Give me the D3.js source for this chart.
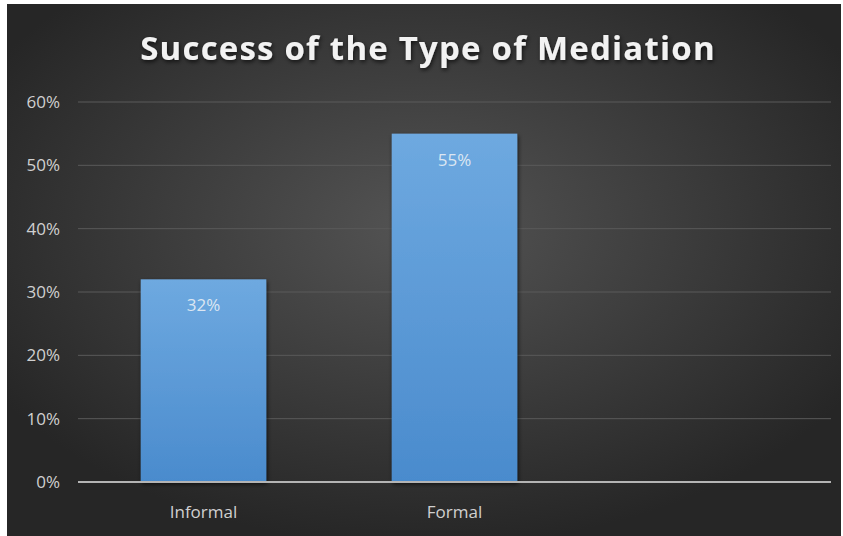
<!DOCTYPE html>
<html>
<head>
    <title>Success of the Type of Mediation</title>
    <script src="https://d3js.org/d3.v7.min.js"></script>
    <style>
        body { margin: 0; background: #fff; }
        .tick-label { font-family: "Open Sans", sans-serif; font-size: 17px; fill: #d0d0d0; }
        .bar-label { font-family: "Open Sans", sans-serif; font-size: 17px; fill: #dce6f2; }
        .title { font-family: "Open Sans", sans-serif; font-size: 33px; font-weight: bold; fill: #f2f2f2; letter-spacing: 1.2px; }
    </style>
</head>
<body>
    <svg width="843" height="536"></svg>

    <script>
        // Chart data
        const categories = ["Informal", "Formal", ""];
        const values = [0.32, 0.55, null];
        const yTicks = [0, 0.1, 0.2, 0.3, 0.4, 0.5, 0.6];

        const svg = d3.select("svg");
        const margin = {left: 78, right: 12, top: 102, bottom: 54};
        const width = 843, height = 536;

        const defs = svg.append("defs");

        // background: dark radial gradient
        const bg = defs.append("radialGradient").attr("id", "bg")
            .attr("cx", "50%").attr("cy", "42%").attr("r", "60%");
        bg.append("stop").attr("offset", "0%").attr("stop-color", "#545454");
        bg.append("stop").attr("offset", "100%").attr("stop-color", "#262626");

        const barGrad = defs.append("linearGradient").attr("id", "barGrad")
            .attr("x1", 0).attr("y1", 0).attr("x2", 0).attr("y2", 1);
        barGrad.append("stop").attr("offset", "0%").attr("stop-color", "#6ea9e0");
        barGrad.append("stop").attr("offset", "100%").attr("stop-color", "#4a8bcd");

        const shadow = defs.append("filter").attr("id", "shadow")
            .attr("x", "-20%").attr("y", "-20%").attr("width", "140%").attr("height", "160%");
        shadow.append("feDropShadow").attr("dx", 1).attr("dy", 2)
            .attr("stdDeviation", 2).attr("flood-color", "#000").attr("flood-opacity", 0.7);

        svg.append("rect")
            .attr("x", 7).attr("y", 4)
            .attr("width", 834).attr("height", 532)
            .attr("fill", "url(#bg)");

        // Scales
        const x = d3.scaleBand()
            .domain(categories.map((c, i) => i))
            .range([margin.left, 831])
            .paddingInner(0.5).paddingOuter(0.25);

        const y = d3.scaleLinear()
            .domain([0, 0.6])
            .range([482, 102]);

        // gridlines
        svg.append("g")
            .selectAll("line")
            .data(yTicks.slice(1))
            .enter().append("line")
            .attr("x1", margin.left).attr("x2", 831)
            .attr("y1", d => y(d)).attr("y2", d => y(d))
            .attr("stroke", "#5a5a5a").attr("stroke-width", 1);

        // y tick labels
        svg.append("g")
            .selectAll("text")
            .data(yTicks)
            .enter().append("text")
            .attr("class", "tick-label")
            .attr("x", 60)
            .attr("y", d => y(d) + 6)
            .attr("text-anchor", "end")
            .text(d => d3.format(".0%")(d));

        // bars
        const barData = values.map((v, i) => ({i, v})).filter(d => d.v != null);

        svg.append("g")
            .selectAll("rect")
            .data(barData)
            .enter().append("rect")
            .attr("x", d => x(d.i))
            .attr("width", x.bandwidth())
            .attr("y", d => y(d.v))
            .attr("height", d => y(0) - y(d.v))
            .attr("fill", "url(#barGrad)")
            .attr("filter", "url(#shadow)");

        svg.append("g")
            .selectAll("text")
            .data(barData)
            .enter().append("text")
            .attr("class", "bar-label")
            .attr("x", d => x(d.i) + x.bandwidth() / 2)
            .attr("y", d => y(d.v) + 32)
            .attr("text-anchor", "middle")
            .text(d => d3.format(".0%")(d.v));

        // x axis line
        svg.append("line")
            .attr("x1", margin.left).attr("x2", 831)
            .attr("y1", y(0)).attr("y2", y(0))
            .attr("stroke", "#b4b4b4").attr("stroke-width", 2);

        // category labels
        svg.append("g")
            .selectAll("text")
            .data(categories)
            .enter().append("text")
            .attr("class", "tick-label")
            .attr("x", (d, i) => x(i) + x.bandwidth() / 2)
            .attr("y", 518)
            .attr("text-anchor", "middle")
            .text(d => d);

        // title
        svg.append("text")
            .attr("class", "title")
            .attr("x", 428)
            .attr("y", 60)
            .attr("text-anchor", "middle")
            .attr("filter", "url(#shadow)")
            .text("Success of the Type of Mediation");
    </script>
</body>
</html>
